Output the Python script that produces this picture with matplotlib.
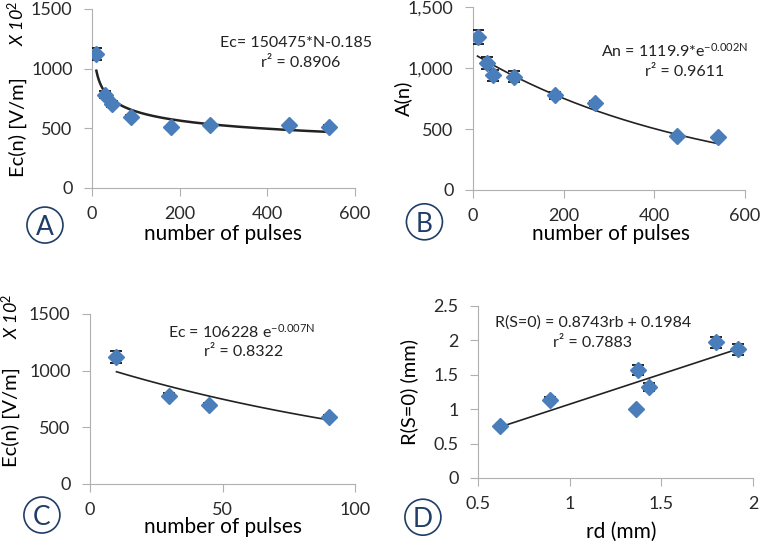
import numpy as np
import matplotlib
matplotlib.use('Agg')
import matplotlib.pyplot as plt
from matplotlib.patches import Ellipse

plt.rcParams['font.family'] = ['Lato', 'DejaVu Sans']
plt.rcParams['mathtext.fontset'] = 'custom'
plt.rcParams['mathtext.rm'] = 'Lato'
plt.rcParams['mathtext.it'] = 'Lato:italic'

# data
pulses_a = [10, 30, 45, 90, 180, 270, 450, 540]
ec_a = [1120, 780, 700, 595, 510, 525, 525, 515]
ec_a_err = [50, 30, 25, 15, 10, 10, 10, 10]

pulses_b = [10, 30, 45, 90, 180, 270, 450, 540]
amp_b = [1255, 1040, 940, 930, 775, 710, 440, 435]
amp_b_err = [60, 50, 45, 45, 30, 20, 10, 10]

pulses_c = [10, 30, 45, 90]
ec_c = [1120, 780, 700, 595]
ec_c_err = [50, 20, 15, 10]

rd_d = [0.62, 0.89, 1.36, 1.37, 1.43, 1.80, 1.92]
r_d = [0.75, 1.14, 1.00, 1.57, 1.32, 1.97, 1.87]
r_d_err = [0.02, 0.03, 0.02, 0.07, 0.06, 0.08, 0.08]

blue = '#4a7ebb'
navy = '#1f3d66'
gray = '#b0b0b0'
W, H = 762, 541

fig = plt.figure(figsize=(7.62, 5.41), dpi=100)


def style(ax):
    for s in ['top', 'right']:
        ax.spines[s].set_visible(False)
    for s in ['left', 'bottom']:
        ax.spines[s].set_color(gray)
    ax.tick_params(axis='both', colors=gray, labelcolor='#2a2a2a',
                   labelsize=13, length=6, direction='out')
    ax.tick_params(axis='x', pad=7)
    ax.tick_params(axis='y', pad=8)


def points(ax, x, y, err):
    ax.errorbar(x, y, yerr=err, fmt='D', color=blue, ms=8, mec=blue,
                ecolor='black', elinewidth=1.2, capsize=4, capthick=1.2, zorder=3)


def badge(letter, xy):
    r = 18
    c = Ellipse(xy, 2 * r / W, 2 * r / H, transform=fig.transFigure, fill=False,
                edgecolor=navy, lw=1.2)
    fig.patches.append(c)
    fig.text(xy[0], xy[1], letter, ha='center', va='center_baseline',
             fontsize=19, color=navy)


def eq(x, y, s):
    fig.text(x, y, s, ha='center', va='center', fontsize=11.5, color='#222222')


# A
ax = fig.add_axes([0.1207, 0.6525, 0.3452, 0.3309])
style(ax)
n = np.linspace(10, 540, 200)
ax.plot(n, 1504.75 * n ** -0.185, color='#222222', lw=1.8, zorder=2)
points(ax, pulses_a, ec_a, ec_a_err)
ax.set_xlim(0, 600)
ax.set_ylim(0, 1500)
ax.set_xticks([0, 200, 400, 600])
ax.set_yticks([0, 500, 1000, 1500])
eq(0.389, 0.92, 'Ec= 150475*N-0.185')
eq(0.394, 0.883, 'r² = 0.8906')
fig.text(0.293, 0.567, 'number of pulses', ha='center', va='center', fontsize=15)
fig.text(0.023, 0.765, 'Ec(n) [V/m]', rotation=90, ha='center', va='center', fontsize=14.5)
fig.text(0.022, 0.957, 'X 10$^{\\mathrm{2}}$', rotation=90, ha='center', va='center',
         fontsize=13, style='italic')
badge('A', (0.059, 0.584))

# B
ax = fig.add_axes([0.6207, 0.6488, 0.3570, 0.3382])
style(ax)
ax.plot(n, 1119.9 * np.exp(-0.002 * n), color='#222222', lw=1.2, zorder=2)
points(ax, pulses_b, amp_b, amp_b_err)
ax.set_xlim(0, 600)
ax.set_ylim(0, 1500)
ax.set_xticks([0, 200, 400, 600])
ax.set_yticks([0, 500, 1000, 1500])
ax.set_yticklabels(['0', '500', '1,000', '1,500'])
fig.text(0.789, 0.906, 'An = 1119.9*e$^{\\mathrm{-0.002N}}$', ha='left', va='center',
         fontsize=11.5, color='#222222')
eq(0.898, 0.867, 'r² = 0.9611')
fig.text(0.802, 0.567, 'number of pulses', ha='center', va='center', fontsize=15)
fig.text(0.529, 0.819, 'A(n)', rotation=90, ha='center', va='center', fontsize=14.5)
badge('B', (0.557, 0.59))

# C
ax = fig.add_axes([0.1181, 0.1054, 0.3478, 0.3142])
style(ax)
n = np.linspace(10, 90, 100)
ax.plot(n, 1062.28 * np.exp(-0.007 * n), color='#222222', lw=1.2, zorder=2)
points(ax, pulses_c, ec_c, ec_c_err)
ax.set_xlim(0, 100)
ax.set_ylim(0, 1500)
ax.set_xticks([0, 50, 100])
ax.set_yticks([0, 500, 1000, 1500])
eq(0.317, 0.386, 'Ec = 106228 e$^{\\mathrm{-0.007N}}$')
eq(0.32, 0.349, 'r² = 0.8322')
fig.text(0.292, 0.026, 'number of pulses', ha='center', va='center', fontsize=15)
fig.text(0.014, 0.23, 'Ec(n) [V/m]', rotation=90, ha='center', va='center', fontsize=14.5)
fig.text(0.014, 0.416, 'X 10$^{\\mathrm{2}}$', rotation=90, ha='center', va='center',
         fontsize=13, style='italic')
badge('C', (0.055, 0.048))

# D
ax = fig.add_axes([0.6273, 0.1165, 0.3609, 0.3179])
style(ax)
r = np.linspace(0.62, 1.92, 50)
ax.plot(r, 0.8743 * r + 0.1984, color='#222222', lw=1.2, zorder=2)
points(ax, rd_d, r_d, r_d_err)
ax.set_xlim(0.5, 2)
ax.set_ylim(0, 2.5)
ax.set_xticks([0.5, 1, 1.5, 2])
ax.set_xticklabels(['0.5', '1', '1.5', '2'])
ax.set_yticks([0, 0.5, 1, 1.5, 2, 2.5])
ax.set_yticklabels(['0', '0.5', '1', '1.5', '2', '2.5'])
eq(0.778, 0.403, 'R(S=0) = 0.8743rb + 0.1984')
eq(0.778, 0.366, 'r² = 0.7883')
fig.text(0.815, 0.016, 'rd (mm)', ha='center', va='center', fontsize=15)
fig.text(0.537, 0.275, 'R(S=0) (mm)', rotation=90, ha='center', va='center', fontsize=14.5)
badge('D', (0.555, 0.044))

fig.savefig('out.png', dpi=100)
